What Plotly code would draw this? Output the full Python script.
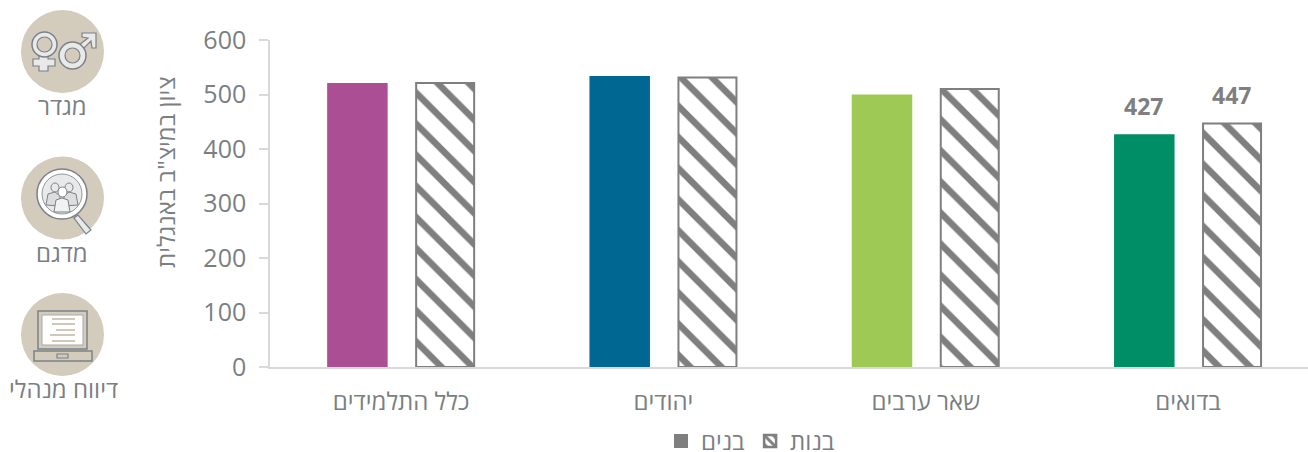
import plotly.graph_objects as go

categories = ["כלל התלמידים", "יהודים", "שאר ערבים", "בדואים"]
boys = [521, 534, 500, 427]
girls = [521, 531, 510, 447]
boy_colors = ["#AB4E94", "#006792", "#9DC954", "#008E66"]
labelled_category = "בדואים"
labelled_values = [427, 447]
y_ticks = [0, 100, 200, 300, 400, 500, 600]
boys_name = "בנים"
girls_name = "בנות"
y_title = 'ציון במיצ"ב באנגלית'
icon_labels = ["מגדר", "מדגם", "דיווח מנהלי"]

W, H = 1308, 452
L, R, T, B = 270, 0, 40, H - 367
GRAY = "#7F7F7F"
TXT = "#7A7F83"
ICON = "#7B8287"
TAN = "#D3CBBB"
PALE = "#E9E9E9"
FONT = "Open Sans, Noto Sans, DejaVu Sans, sans-serif"
pw, ph = W - L - R, H - T - B
STEP = 262.3
BOY_W = 60.5 / STEP
GIRL_W = 58 / STEP
BOY_OFF = -74 / STEP
GIRL_OFF = 15 / STEP


def px(x):
    return (x - L) / pw


def py(y):
    return 1 - (y - T) / ph


shapes = []


def add(kind, x0, y0, x1, y1, fill=None, line=ICON, lw=1.5):
    shapes.append(dict(type=kind, xref="paper", yref="paper", x0=px(x0), y0=py(y0), x1=px(x1), y1=py(y1),
                       fillcolor=fill if fill else "rgba(0,0,0,0)",
                       line=dict(color=line, width=lw), layer="above"))


def poly(points, fill=PALE, line=ICON, lw=1.2):
    path = "M " + " L ".join(f"{px(a):.5f} {py(b):.5f}" for a, b in points) + " Z"
    shapes.append(dict(type="path", xref="paper", yref="paper", path=path, fillcolor=fill,
                       line=dict(color=line, width=lw), layer="above"))


# icon discs
for cy in (51.5, 198, 334.5):
    add("circle", 21, cy - 41.5, 104, cy + 41.5, fill=TAN, line=TAN, lw=0)

# gender icon
poly([(39, 56), (39, 59), (33, 59), (33, 66), (39, 66), (39, 71), (48, 71), (48, 66), (55, 66), (55, 59), (48, 59), (48, 56)])
add("circle", 32, 32, 57, 57, fill=PALE, lw=1.5)
add("circle", 37, 37, 52, 52, fill=TAN, lw=1.2)
poly([(79, 45), (83, 49), (91, 41), (92, 48), (96, 48), (96, 33), (82, 33), (82, 37), (88, 38)])
add("circle", 59, 42, 86, 69, fill=PALE, lw=1.5)
add("circle", 65, 48, 80, 63, fill=TAN, lw=1.2)

# sample icon
poly([(74, 218), (78, 215), (91, 230), (86, 234)], fill=PALE)
add("circle", 37, 169, 87, 219, fill="#FFFFFF", lw=1.5)
add("circle", 42, 174, 82, 214, fill=PALE, line=ICON, lw=0.8)
add("circle", 51, 183, 59, 192, fill=PALE, lw=1)
add("circle", 65, 183, 73, 192, fill=PALE, lw=1)
poly([(46, 205), (48, 194), (55, 192), (60, 196), (60, 206)], fill="#DDDDDD", lw=1)
poly([(78, 205), (76, 194), (69, 192), (64, 196), (64, 206)], fill="#DDDDDD", lw=1)
add("circle", 58, 187, 67, 197, fill="#FFFFFF", lw=1)
poly([(54, 212), (56, 200), (62, 198), (68, 200), (70, 212)], fill="#F2F2F2", lw=1)

# laptop icon
add("rect", 38, 311, 87, 349, fill=TAN, lw=1.5)
add("rect", 42, 315, 83, 345, fill="#FFFFFF", line="#A9A9A9", lw=1)
add("rect", 34, 351, 92, 361, fill=TAN, lw=1.5)
add("rect", 57, 354, 68, 358, fill=TAN, lw=1.2)
for yy, a, b in ((319, 52, 75), (324, 52, 75), (330, 56, 75), (335, 50, 75), (341, 52, 75)):
    add("line", a, yy, b, yy, line="#CFC9BB", lw=2)

fig = go.Figure()
common = dict(x=categories, cliponaxis=False, showlegend=False, hoverinfo="skip")
fig.add_trace(go.Bar(y=boys, offset=BOY_OFF, width=BOY_W, name=boys_name,
                     marker=dict(color=boy_colors, line=dict(width=0)), **common))
fig.add_trace(go.Bar(y=girls, offset=GIRL_OFF, width=GIRL_W, name=girls_name,
                     marker=dict(color="#FFFFFF", line=dict(color=GRAY, width=2),
                                 pattern=dict(shape="\\", fgcolor=GRAY, bgcolor="#FFFFFF", size=22, solidity=0.3,
                                              fgopacity=1)), **common))
# legend keys
fig.add_trace(go.Bar(x=[None], y=[None], name=boys_name, showlegend=True,
                     marker=dict(color=GRAY, line=dict(color=GRAY, width=2))))
fig.add_trace(go.Bar(x=[None], y=[None], name=girls_name, showlegend=True,
                     marker=dict(color="#FFFFFF", line=dict(color=GRAY, width=2.5),
                                 pattern=dict(shape="\\", fgcolor=GRAY, bgcolor="#FFFFFF", size=8, solidity=0.45,
                                              fgopacity=1))))

annotations = [
    dict(text=t, xref="paper", yref="paper", x=px(x), y=py(y), showarrow=False, xanchor="center", yanchor="middle",
         font=dict(size=24, color=TXT, family=FONT))
    for t, x, y in zip(icon_labels, (62, 62, 63), (105, 252, 388))
]
annotations.append(dict(text=y_title, xref="paper", yref="paper", x=px(165), y=py(172), showarrow=False,
                        xanchor="center", yanchor="middle", textangle=-90,
                        font=dict(size=24, color=TXT, family=FONT)))
for v, off, w in zip(labelled_values, (BOY_OFF, GIRL_OFF), (BOY_W, GIRL_W)):
    annotations.append(dict(text=f"<b>{v}</b>", xref="x", yref="y", x=3 + off + w / 2, y=v, yshift=28, xshift=-1,
                            showarrow=False, xanchor="center", yanchor="middle",
                            font=dict(size=23, color=GRAY, family=FONT)))

fig.update_layout(
    width=W, height=H, autosize=False, barmode="overlay",
    margin=dict(l=L, r=R, t=T, b=B, pad=0, autoexpand=False),
    paper_bgcolor="#FFFFFF", plot_bgcolor="#FFFFFF",
    font=dict(family=FONT, size=24, color=TXT),
    shapes=shapes, annotations=annotations,
    legend=dict(orientation="h", x=px(661), xanchor="left", y=py(419), yanchor="top",
                font=dict(size=24, color=TXT), traceorder="normal", itemwidth=30,
                bgcolor="rgba(0,0,0,0)"),
    xaxis=dict(range=[-0.5, (W - L) / STEP - 0.5], showgrid=False, showline=True, linecolor="#D9D9D9", linewidth=1.5,
               ticks="", tickfont=dict(size=24, color=TXT), ticklabelstandoff=12, zeroline=False, fixedrange=True),
    yaxis=dict(range=[0, 600], tickvals=y_ticks, showgrid=False, showline=True, linecolor="#D9D9D9", linewidth=1.5,
               ticks="outside", ticklen=9, tickcolor="#D9D9D9", tickwidth=1.5, zeroline=False,
               tickfont=dict(size=25, color=TXT), ticklabelstandoff=8),
)
fig.write_html("out.html", config=dict(displayModeBar=False),
               post_script="document.body.style.margin='0';document.documentElement.style.overflow='hidden';")
